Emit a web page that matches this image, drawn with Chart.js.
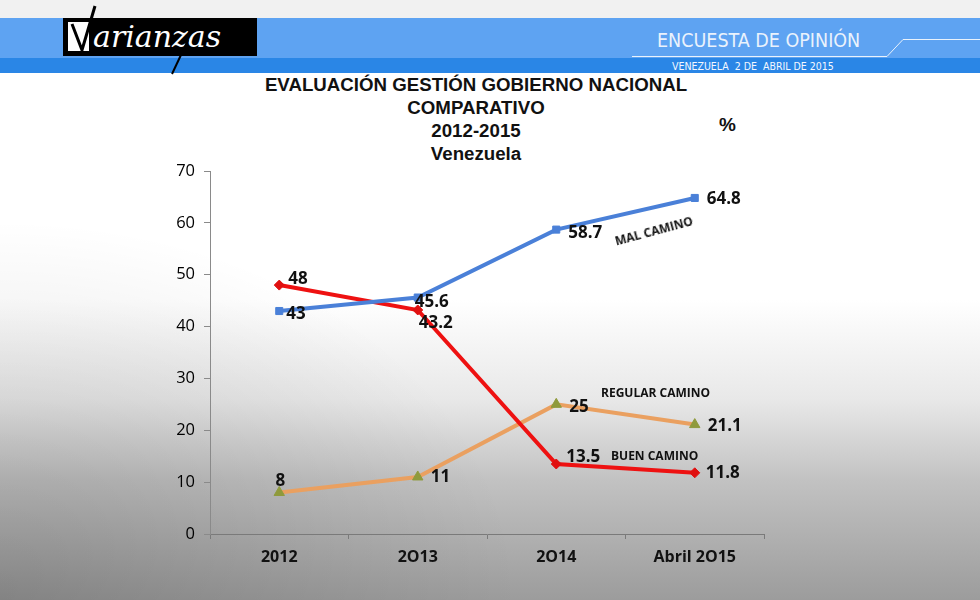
<!DOCTYPE html>
<html>
<head>
<meta charset="utf-8">
<script src="https://cdn.jsdelivr.net/npm/chart.js@4.4.1/dist/chart.umd.min.js"></script>
<style>
  html, body { margin: 0; padding: 0; }
  body {
    width: 980px; height: 600px; position: relative; overflow: hidden;
    background:
      radial-gradient(ellipse 520px 380px at 0% 100%, rgba(0,0,0,0.16), rgba(0,0,0,0) 100%),
      linear-gradient(to bottom, #ffffff 0px, #ffffff 300px, #e8e8e8 400px, #c2c2c2 480px, #9c9c9c 600px);
    font-family: "Liberation Sans", Arial, sans-serif;
  }
  .strip { position: absolute; left: 0; width: 980px; }
  #topStrip { top: 0; height: 18px; background: #f1f1f1; }
  #band1 { top: 18px; height: 40px; background: #5ea3f2; }
  #band2 { top: 58px; height: 15px; background: #2a86e6; }
  #headSvg { position: absolute; left: 0; top: 0; }
  .headText { position: absolute; color: #eaf2fc; font-family: "Liberation Sans Narrow", "DejaVu Sans Condensed", sans-serif; white-space: nowrap; }
  #survey { left: 657px; top: 29px; font-size: 19.5px; }
  #dateLine { left: 672px; top: 60px; font-size: 10.5px; color: #f4f8ff; }
  .title { position: absolute; left: 176px; width: 600px; text-align: center; font-weight: bold; font-size: 18.7px; color: #111; white-space: nowrap; }
  #pct { position: absolute; left: 719px; top: 114px; font-weight: bold; font-size: 19px; color: #111; }
  .serie { position: absolute; font-family: "Open Sans", sans-serif; font-weight: bold; font-size: 12px; color: #111; white-space: nowrap; }
  #chart { position: absolute; left: 0; top: 0; }
</style>
</head>
<body>
<div class="strip" id="topStrip"></div>
<div class="strip" id="band1"></div>
<div class="strip" id="band2"></div>
<svg id="headSvg" width="980" height="80">
  <rect x="63" y="18" width="194" height="38" fill="#000"/>
  <rect x="68" y="22" width="21" height="29" fill="#fff"/>
  <path d="M72 24 L82 50 L95 6" stroke="#000" stroke-width="3" fill="none"/>
  <text x="93" y="47" fill="#fff" font-family="DejaVu Serif" font-style="italic" font-size="30">arianzas</text>
  <path d="M188 40 L172 74" stroke="#000" stroke-width="2" fill="none"/>
  <path d="M632 56.5 L887 56.5 L903 39.5 L980 39.5" stroke="#e9f2fc" stroke-width="1" fill="none"/>
</svg>
<div class="headText" id="survey">ENCUESTA DE OPINIÓN</div>
<div class="headText" id="dateLine">VENEZUELA&nbsp; 2 DE&nbsp; ABRIL DE 2015</div>

<div class="title" style="top:74px">EVALUACIÓN GESTIÓN GOBIERNO NACIONAL</div>
<div class="title" style="top:97px">COMPARATIVO</div>
<div class="title" style="top:120px">2012-2015</div>
<div class="title" style="top:143px">Venezuela</div>
<div id="pct">%</div>

<canvas id="chart" width="980" height="600"></canvas>

<div class="serie" style="left:613px; top:233px; transform: rotate(-15deg); transform-origin: left top;">MAL CAMINO</div>
<div class="serie" style="left:601px; top:384px;">REGULAR CAMINO</div>
<div class="serie" style="left:611px; top:447px;">BUEN CAMINO</div>

<script>
// data
const years = ['2012', '2O13', '2O14', 'Abril 2O15'];
const malCamino = [43, 45.6, 58.7, 64.8];
const buenCamino = [48, 43.2, 13.5, 11.8];
const regularCamino = [8, 11, 25, 21.1];
const yTicks = [0, 10, 20, 30, 40, 50, 60, 70];

// label offsets from each point [dx, dy, align]
const malOffsets = [[7, 3, 'left'], [-3, 5, 'left'], [12, 4, 'left'], [12, 1, 'left']];
const buenOffsets = [[9, -6, 'left'], [1, 13, 'left'], [10, -7, 'left'], [11, 0, 'left']];
const regularOffsets = [[1, -11, 'center'], [13, 0, 'left'], [13, 3, 'left'], [13, 2, 'left']];

const pointLabels = {
    id: 'pointLabels',
    afterDatasetsDraw(chart) {
        const ctx = chart.ctx;
        ctx.save();
        ctx.font = 'bold 17px "Open Sans", sans-serif';
        ctx.fillStyle = '#111';
        ctx.textBaseline = 'middle';
        chart.data.datasets.forEach((ds, i) => {
            const meta = chart.getDatasetMeta(i);
            meta.data.forEach((pt, j) => {
                const off = ds.labelOffsets[j];
                ctx.textAlign = off[2];
                ctx.fillText(String(ds.data[j]), pt.x + off[0], pt.y + off[1]);
            });
        });
        ctx.restore();
    }
};

new Chart(document.getElementById('chart'), {
    type: 'line',
    data: {
        labels: years,
        datasets: [
            {
                label: 'MAL CAMINO',
                data: malCamino,
                borderColor: '#4a80d8',
                borderWidth: 4,
                pointStyle: 'rect',
                pointRadius: 5,
                pointBackgroundColor: '#4a80d8',
                pointBorderColor: '#4a80d8',
                pointBorderWidth: 1,
                labelOffsets: malOffsets
            },
            {
                label: 'BUEN CAMINO',
                data: buenCamino,
                borderColor: '#ee1111',
                borderWidth: 4,
                pointStyle: 'rectRot',
                pointRadius: 5,
                pointBackgroundColor: '#e01010',
                pointBorderColor: '#e01010',
                pointBorderWidth: 1,
                labelOffsets: buenOffsets
            },
            {
                label: 'REGULAR CAMINO',
                data: regularCamino,
                borderColor: '#eaa060',
                borderWidth: 4,
                pointStyle: 'triangle',
                pointRadius: 6,
                pointBackgroundColor: '#8f9a3c',
                pointBorderColor: '#8f9a3c',
                pointBorderWidth: 1,
                labelOffsets: regularOffsets
            }
        ]
    },
    options: {
        responsive: false,
        animation: false,
        layout: { padding: { top: 171, right: 216, left: 0, bottom: 0 } },
        plugins: {
            legend: { display: false },
            tooltip: { enabled: false }
        },
        scales: {
            x: {
                offset: true,
                grid: { offset: true, drawOnChartArea: false, tickLength: 5, color: '#7a7a7a' },
                border: { color: '#7a7a7a', width: 1 },
                ticks: {
                    color: '#111',
                    padding: 9,
                    font: { family: 'Open Sans', size: 16, weight: 'bold' }
                },
                afterFit(scale) { scale.height = 66; }
            },
            y: {
                min: yTicks[0],
                max: yTicks[yTicks.length - 1],
                afterBuildTicks(scale) { scale.ticks = yTicks.map(v => ({ value: v })); },
                grid: { drawOnChartArea: false, tickLength: 6, color: '#8a8a8a' },
                border: { color: '#8a8a8a', width: 1 },
                ticks: {
                    color: '#000',
                    padding: 9,
                    font: { family: 'Open Sans', size: 16.5 }
                },
                afterFit(scale) { scale.width = 210; }
            }
        }
    },
    plugins: [pointLabels]
});
</script>
</body>
</html>
